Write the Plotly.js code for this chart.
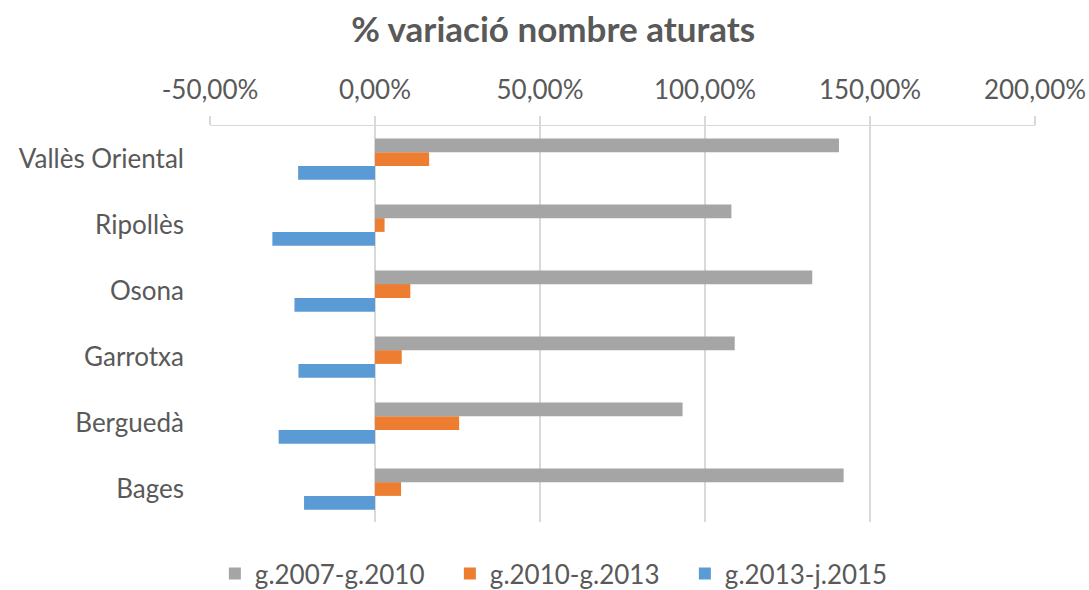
<!DOCTYPE html>
<html>
<head>
<meta charset="utf-8">
<script src="https://cdn.plot.ly/plotly-3.0.1.min.js"></script>
<style>html,body{margin:0;padding:0;background:#fff;}#chart{width:1089px;height:590px;}</style>
</head>
<body>
<div id="chart"></div>
<script>
const comarques = ["Bages", "Berguedà", "Garrotxa", "Osona", "Ripollès", "Vallès Oriental"];
const s2007_2010 = [142.0, 93.2, 109.0, 132.5, 108.0, 140.6];
const s2010_2013 = [7.9, 25.5, 8.1, 10.7, 2.9, 16.4];
const s2013_2015 = [-21.5, -29.2, -23.2, -24.4, -31.1, -23.3];
const seriesNames = ["g.2007-g.2010", "g.2010-g.2013", "g.2013-j.2015"];
const tickVals = [-50, 0, 50, 100, 150, 200];
const tickText = ["-50,00%", "0,00%", "50,00%", "100,00%", "150,00%", "200,00%"];

const FONT = "Lato, 'Open Sans', sans-serif";
const TXT = "#595959";

const traces = [
  {name: seriesNames[2], x: s2013_2015, y: comarques, color: "#5b9bd5"},
  {name: seriesNames[1], x: s2010_2013, y: comarques, color: "#ed7d31"},
  {name: seriesNames[0], x: s2007_2010, y: comarques, color: "#a5a5a5"}
].map(t => ({
  type: "bar", orientation: "h", name: t.name, x: t.x, y: t.y,
  marker: {color: t.color, line: {width: 0}}, hoverinfo: "x+y"
}));

const layout = {
  width: 1089, height: 590,
  margin: {l: 210, r: 54, t: 126, b: 68},
  paper_bgcolor: "#fff", plot_bgcolor: "#fff",
  font: {family: FONT, color: TXT, size: 26},
  title: {text: "<b>% variació nombre aturats</b>", font: {family: FONT, size: 35, color: TXT},
          x: 0.508, xref: "container", xanchor: "center", y: 0.949, yref: "container", yanchor: "middle"},
  barmode: "group", bargap: 0.375, bargroupgap: 0,
  xaxis: {side: "top", range: [-50, 200], tickvals: tickVals, ticktext: tickText,
          showgrid: true, gridcolor: "#d9d9d9", gridwidth: 1.5, zeroline: false,
          showline: true, linecolor: "#d9d9d9", linewidth: 1.5,
          ticks: "outside", ticklen: 9, tickcolor: "#d9d9d9", tickwidth: 1.5,
          ticklabelstandoff: 6, tickfont: {size: 26, color: TXT}, fixedrange: true},
  yaxis: {type: "category", categoryorder: "array", categoryarray: comarques,
          showgrid: false, zeroline: false, showline: false, ticks: "",
          ticklabelstandoff: 25, tickfont: {size: 26, color: TXT}, fixedrange: true},
  showlegend: true,
  legend: {orientation: "h", traceorder: "reversed", xref: "container", x: 0.521, xanchor: "center",
           yref: "container", y: 0.028, yanchor: "middle", font: {size: 26, color: TXT},
           itemwidth: 30, entrywidth: 190, entrywidthmode: "pixels", itemclick: false}
};

Plotly.newPlot("chart", traces, layout, {displayModeBar: false, staticPlot: true});
</script>
</body>
</html>
